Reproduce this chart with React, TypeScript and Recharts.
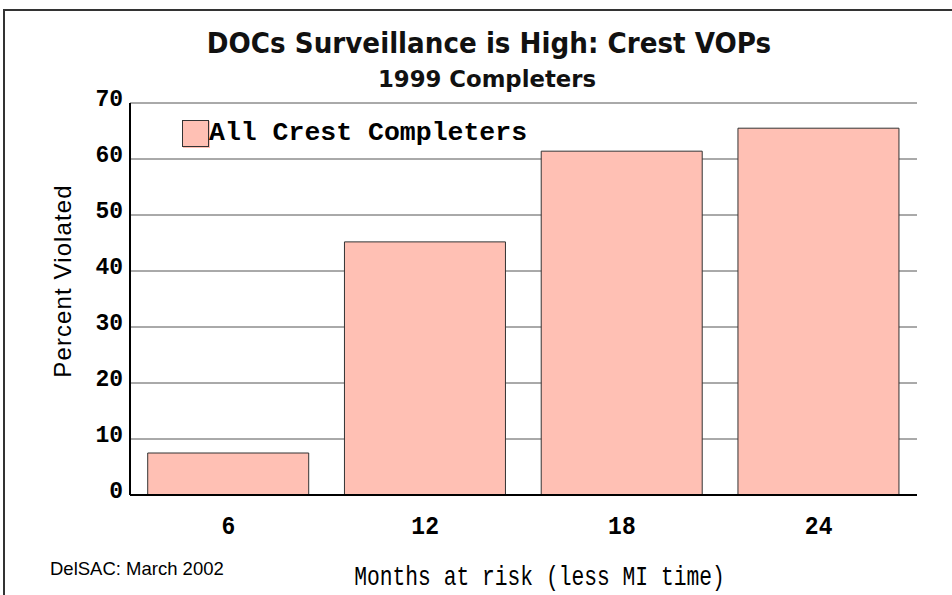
import { BarChart, Bar, XAxis, YAxis, CartesianGrid, Legend } from 'recharts';

const months = ['6', '12', '18', '24'];
const percentViolated = [7.5, 45.2, 61.4, 65.5];
const yTicks = [0, 10, 20, 30, 40, 50, 60, 70];

const data = months.map((m, i) => ({ month: m, completers: percentViolated[i] }));

const mono = '"Liberation Mono", "Courier New", monospace';
const sans = '"Liberation Sans", Arial, sans-serif';
const heavy = '"DejaVu Sans", sans-serif';

function YTick(props: any) {
  const { x, y, payload } = props;
  return (
    <text x={x} y={y - 3.5} textAnchor="end" dominantBaseline="central"
      fontFamily={mono} fontWeight="bold" fontSize={23} fill="#000">
      {payload.value}
    </text>
  );
}

function XTick(props: any) {
  const { x, y, payload } = props;
  return (
    <g transform={`translate(${x},${y}) scale(1,1.15)`}>
      <text x={0} y={0} textAnchor="middle" dominantBaseline="central"
        fontFamily={mono} fontWeight="bold" fontSize={23} fill="#000">
        {payload.value}
      </text>
    </g>
  );
}

function LegendBox() {
  return (
    <div style={{ display: 'flex', alignItems: 'center', whiteSpace: 'nowrap' }}>
      <div style={{ width: 27, height: 27, background: '#ffc0b4', border: '1px solid #333', boxSizing: 'border-box', boxShadow: '1px 1px 0 #ffc0b4' }} />
      <span style={{ fontFamily: mono, fontWeight: 'bold', fontSize: 26.5, lineHeight: 1, color: '#000' }}>
        All Crest Completers
      </span>
    </div>
  );
}

export default function App() {
  return (
    <div style={{ position: 'absolute', left: 0, top: 0, width: 952, height: 595, overflow: 'hidden', background: '#fff' }}>
      <div style={{ position: 'absolute', left: 3, top: 9, width: 960, height: 600, border: '2px solid #333', boxSizing: 'border-box' }} />
      <div style={{ position: 'absolute', left: 13, width: 952, top: 29.5, lineHeight: 1, textAlign: 'center', fontFamily: heavy, fontWeight: 'bold', fontSize: 28, color: '#111', transform: 'scaleX(0.936)', whiteSpace: 'nowrap' }}>
        DOCs Surveillance is High: Crest VOPs
      </div>
      <div style={{ position: 'absolute', left: 11, width: 952, top: 67.5, lineHeight: 1, textAlign: 'center', fontFamily: heavy, fontWeight: 'bold', fontSize: 23, color: '#111', transform: 'scaleX(0.99)', whiteSpace: 'nowrap' }}>
        1999 Completers
      </div>
      <div style={{ position: 'absolute', left: 63, top: 281, transform: 'translate(-50%, -50%) rotate(-90deg)', whiteSpace: 'nowrap', lineHeight: 1, fontFamily: sans, fontSize: 24, letterSpacing: 1.1, color: '#000' }}>
        Percent Violated
      </div>
      <div style={{ position: 'absolute', left: 50, top: 560, lineHeight: 1, fontFamily: sans, fontSize: 18.5, color: '#000', whiteSpace: 'nowrap' }}>
        DelSAC: March 2002
      </div>
      <div style={{ position: 'absolute', left: 0, width: 1079, top: 567, lineHeight: 1, textAlign: 'center', fontFamily: mono, fontSize: 21.3, color: '#000', transform: 'scaleY(1.3)', whiteSpace: 'nowrap' }}>
        Months at risk (less MI time)
      </div>
      <div style={{ position: 'absolute', left: 0, top: 0 }}>
        <BarChart width={952} height={595} data={data}
          margin={{ top: 103, right: 35, bottom: 70, left: 70 }} barCategoryGap="9%">
          <CartesianGrid vertical={false} stroke="#555" strokeWidth={1} />
          <XAxis dataKey="month" height={30} tickLine={false} tickSize={0} tickMargin={32}
            axisLine={{ stroke: '#000', strokeWidth: 2 }} tick={<XTick />} />
          <YAxis width={60} domain={[0, 70]} ticks={yTicks} interval={0} tickLine={false} tickSize={0}
            tickMargin={7} axisLine={{ stroke: '#000', strokeWidth: 2 }} tick={<YTick />} />
          <YAxis yAxisId="right" orientation="right" width={0} domain={[0, 70]} tick={false} tickLine={false}
            axisLine={{ stroke: '#222', strokeWidth: 1 }} />
          <Legend content={<LegendBox />} layout="horizontal" verticalAlign="middle" align="center"
            wrapperStyle={{ position: 'absolute', left: 182, top: 120, width: 'auto', height: 'auto' }} />
          <Bar dataKey="completers" fill="#ffc0b4" stroke="#333" strokeWidth={1} isAnimationActive={false} />
        </BarChart>
      </div>
    </div>
  );
}
